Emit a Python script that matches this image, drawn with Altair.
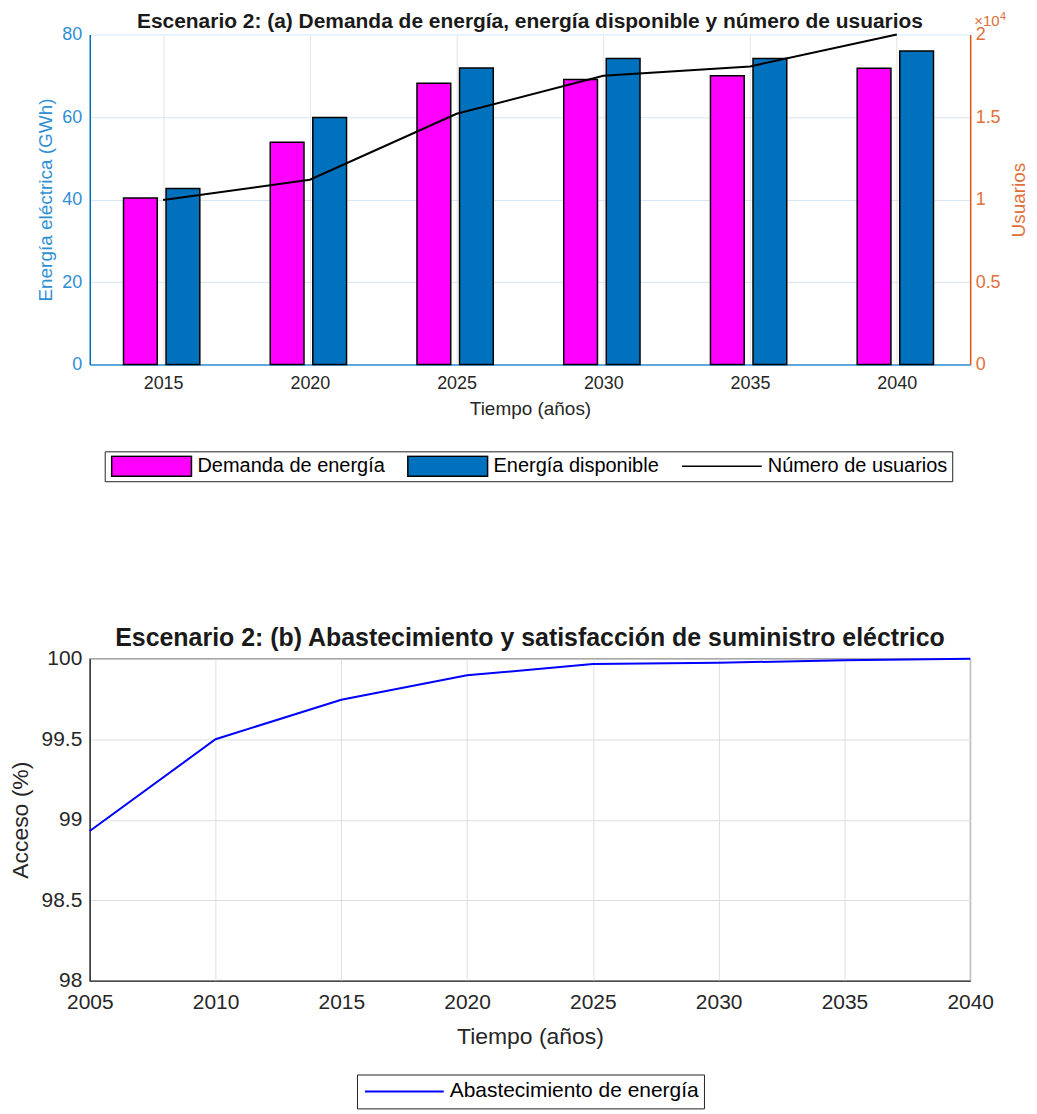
import altair as alt
import pandas as pd

# ---------- data (a) ----------
anios_a = [2015, 2020, 2025, 2030, 2035, 2040]
demanda = [40.4, 53.9, 68.2, 69.1, 70.0, 71.8]
disponible = [42.7, 59.9, 71.9, 74.2, 74.2, 76.0]
usuarios = [9970, 11200, 15200, 17500, 18070, 20000]
series_a = ["Demanda de energía", "Energía disponible", "Número de usuarios"]
colores_a = ["#FF00FF", "#0072BD", "#000000"]

# ---------- data (b) ----------
anios_b = [2005, 2010, 2015, 2020, 2025, 2030, 2035, 2040]
acceso = [98.93, 99.50, 99.745, 99.897, 99.967, 99.975, 99.99, 100.0]
serie_b = "Abastecimiento de energía"

titulo_a = "Escenario 2: (a) Demanda de energía, energía disponible y número de usuarios"
titulo_b = "Escenario 2: (b) Abastecimiento y satisfacción de suministro eléctrico"

FONT = "Liberation Sans"
AZUL_EJE = "#0072BD"
AZUL_TXT = "#2F8FD5"
NAR_EJE = "#D95319"
NAR_TXT = "#E0703A"

df_bars = pd.DataFrame({
    "anio": anios_a * 2,
    "valor": demanda + disponible,
    "serie": [series_a[0]] * len(anios_a) + [series_a[1]] * len(anios_a),
})
df_users = pd.DataFrame({"anio": anios_a, "usuarios": usuarios})
df_b = pd.DataFrame({"anio": anios_b, "acceso": acceso, "serie": [serie_b] * len(anios_b)})

xscale_a = alt.Scale(domain=[2012.5, 2042.5], nice=False, zero=False)

bars = alt.Chart(df_bars).transform_calculate(
    x0="datum.serie == 'Demanda de energía' ? datum.anio - 1.35 : datum.anio + 0.1"
).transform_calculate(
    x1="datum.x0 + 1.15"
).mark_bar(stroke="black", strokeWidth=1.5).encode(
    x=alt.X("x0:Q", scale=xscale_a,
            axis=alt.Axis(values=anios_a, format="d", title="Tiempo (años)",
                          grid=True, gridColor="#E3E3E3", ticks=False, labelFlush=False,
                          domainColor=AZUL_TXT, domainWidth=1.5,
                          labelColor="#262626", labelFontSize=18, labelPadding=10,
                          titleColor="#262626", titleFontSize=19, titleFontWeight="normal",
                          titlePadding=7, labelFont=FONT, titleFont=FONT)),
    x2="x1:Q",
    y=alt.Y("valor:Q", scale=alt.Scale(domain=[0, 80], nice=False),
            axis=alt.Axis(values=[0, 20, 40, 60, 80], title="Energía eléctrica (GWh)",
                          grid=True, gridColor="#D5E5F2", ticks=False, labelFlush=False,
                          domainColor=AZUL_EJE, domainWidth=1.5,
                          labelColor=AZUL_TXT, labelFontSize=18, labelPadding=8,
                          titleColor=AZUL_TXT, titleFontSize=19, titleFontWeight="normal",
                          titlePadding=6, labelFont=FONT, titleFont=FONT)),
    y2=alt.datum(0),
    color=alt.Color("serie:N",
                    scale=alt.Scale(domain=series_a, range=colores_a),
                    legend=alt.Legend(
                        orient="none", legendX=15, legendY=418, direction="horizontal",
                        title=None, fillColor="white", strokeColor="#222222",
                        padding=4, cornerRadius=0, labelLimit=400,
                        symbolType={"expr": "datum.value == 'Número de usuarios' ? 'stroke' : 'M-1,-0.25H1V0.25H-1Z'"},
                        symbolSize=6400, clipHeight=22,
                        symbolStrokeColor="black", symbolStrokeWidth=1.5,
                        labelFontSize=20, labelFont=FONT, labelColor="#000000",
                        labelOffset=5, columnPadding=20, symbolOffset=2)),
)

titulo_txt = alt.Chart(pd.DataFrame({"t": [titulo_a]})).mark_text(
    font=FONT, fontSize=21, fontWeight="bold", baseline="alphabetic", dy=-7, color="#1A1A1A"
).encode(x=alt.datum(2027.5), y=alt.datum(80), text="t:N")

line_users = alt.Chart(df_users).mark_line(color="black", strokeWidth=2).encode(
    x=alt.X("anio:Q", scale=xscale_a),
    y=alt.Y("usuarios:Q", scale=alt.Scale(domain=[0, 20000], nice=False),
            axis=alt.Axis(orient="right", values=[0, 5000, 10000, 15000, 20000],
                          labelExpr="datum.value / 10000", title="Usuarios",
                          titleAngle=270, titleBaseline="top", grid=False, ticks=False,
                          labelFlush=False,
                          domainColor=NAR_EJE, domainWidth=1.5,
                          labelColor=NAR_TXT, labelFontSize=18, labelPadding=5,
                          titleColor=NAR_TXT, titleFontSize=19, titleFontWeight="normal",
                          titlePadding=9, labelFont=FONT, titleFont=FONT)),
)

exp_base = alt.Chart(pd.DataFrame({"t": ["×10"]})).mark_text(
    font=FONT, fontSize=15, align="left", baseline="alphabetic", dx=4, dy=-9, color=NAR_TXT
).encode(x=alt.datum(2042.5), y=alt.datum(20000), text="t:N")
exp_pow = alt.Chart(pd.DataFrame({"t": ["4"]})).mark_text(
    font=FONT, fontSize=11, align="left", baseline="alphabetic", dx=30, dy=-15, color=NAR_TXT
).encode(x=alt.datum(2042.5), y=alt.datum(20000), text="t:N")

top = alt.layer(
    alt.layer(bars, titulo_txt),
    alt.layer(line_users, exp_base, exp_pow),
).resolve_scale(y="independent").properties(
    width=883, height=331, view=alt.ViewBackground(stroke="transparent")
)

bottom = alt.Chart(df_b).mark_line(strokeWidth=2).encode(
    x=alt.X("anio:Q", scale=alt.Scale(domain=[2005, 2040], nice=False, zero=False),
            axis=alt.Axis(values=anios_b, format="d", title="Tiempo (años)",
                          grid=True, gridColor="#DFDFDF", ticks=False, labelFlush=False,
                          domainColor="#262626", domainWidth=1.2,
                          labelColor="#262626", labelFontSize=21, labelPadding=11,
                          titleColor="#262626", titleFontSize=23, titleFontWeight="normal",
                          titlePadding=13, labelFont=FONT, titleFont=FONT)),
    y=alt.Y("acceso:Q", scale=alt.Scale(domain=[98, 100], nice=False, zero=False),
            axis=alt.Axis(values=[98, 98.5, 99, 99.5, 100], format="~g", title="Acceso (%)",
                          grid=True, gridColor="#DFDFDF", ticks=False, labelFlush=False,
                          domainColor="#262626", domainWidth=1.2,
                          labelColor="#262626", labelFontSize=21, labelPadding=8,
                          titleColor="#262626", titleFontSize=23, titleFontWeight="normal",
                          titlePadding=9, labelFont=FONT, titleFont=FONT)),
    color=alt.Color("serie:N",
                    scale=alt.Scale(domain=[serie_b], range=["#0000FF"]),
                    legend=alt.Legend(
                        orient="none", legendX=268, legendY=417, direction="horizontal",
                        title=None, fillColor="white", strokeColor="#222222",
                        padding=5, cornerRadius=0, symbolType="stroke", labelLimit=400,
                        symbolSize=6241, clipHeight=24, symbolStrokeWidth=2,
                        labelFontSize=21, labelFont=FONT, labelColor="#000000",
                        labelOffset=5, symbolOffset=2)),
).properties(
    width=883, height=323,
    title=alt.Title(titulo_b, font=FONT, fontSize=25, fontWeight="bold",
                    color="#1A1A1A", offset=-3, anchor="middle"),
    view=alt.ViewBackground(stroke="#262626", strokeWidth=1.2),
)

chart = alt.vconcat(top, bottom, spacing=143).resolve_scale(
    color="independent"
).properties(
    padding={"left": 0, "right": 0, "top": 0, "bottom": 0}
).configure(font=FONT, background="white")

chart.save("out.html", embed_options={"renderer": "svg", "actions": False})
